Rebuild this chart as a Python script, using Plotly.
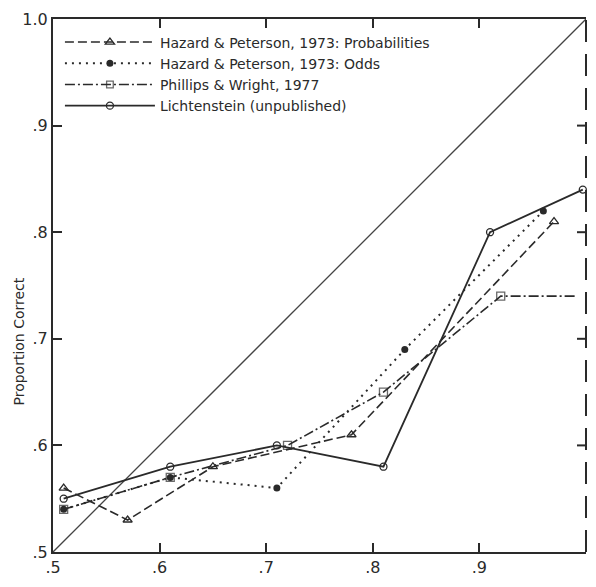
import plotly.graph_objects as go

# ---- data ----
prob_x = [0.51, 0.57, 0.65, 0.78, 0.97]
prob_y = [0.56, 0.53, 0.58, 0.61, 0.81]

odds_x = [0.51, 0.61, 0.71, 0.83, 0.96]
odds_y = [0.54, 0.57, 0.56, 0.69, 0.82]

pw_x = [0.51, 0.61, 0.72, 0.81, 0.92, 0.99]
pw_y = [0.54, 0.57, 0.60, 0.65, 0.74, 0.74]
pw_marker_sizes = [8, 8, 8, 8, 8, 0]

lich_x = [0.51, 0.61, 0.71, 0.81, 0.91, 0.997]
lich_y = [0.55, 0.58, 0.60, 0.58, 0.80, 0.84]

diag = [0.5, 1.0]

tick_vals = [0.5, 0.6, 0.7, 0.8, 0.9, 1.0]
tick_text = [".5", ".6", ".7", ".8", ".9", "1.0"]
right_ticks = [0.6, 0.7, 0.8, 0.9]

names = [
    "Hazard & Peterson, 1973: Probabilities",
    "Hazard & Peterson, 1973: Odds",
    "Phillips & Wright, 1977",
    "Lichtenstein (unpublished)",
]

INK = "#2a2a2a"
FONT = "DejaVu Sans"

fig = go.Figure()

fig.add_trace(go.Scatter(
    x=diag, y=diag, mode="lines", showlegend=False, hoverinfo="skip",
    line=dict(color="#444", width=1.3)))

fig.add_trace(go.Scatter(
    x=prob_x, y=prob_y, mode="lines+markers", name=names[0], cliponaxis=False,
    line=dict(color=INK, width=1.6, dash="9px,4px"),
    marker=dict(symbol="triangle-up-open", size=8, color=INK, line=dict(width=1.3))))

fig.add_trace(go.Scatter(
    x=odds_x, y=odds_y, mode="lines+markers", name=names[1], cliponaxis=False,
    line=dict(color=INK, width=2, dash="2px,5px"),
    marker=dict(symbol="circle", size=7, color=INK)))

fig.add_trace(go.Scatter(
    x=pw_x, y=pw_y, mode="lines+markers", name=names[2], cliponaxis=False,
    line=dict(color=INK, width=1.6, dash="10px,3px,2px,3px"),
    marker=dict(symbol="square-open", size=pw_marker_sizes, color=INK, line=dict(width=1.3))))

fig.add_trace(go.Scatter(
    x=lich_x, y=lich_y, mode="lines+markers", name=names[3], cliponaxis=False,
    line=dict(color=INK, width=1.8),
    marker=dict(symbol="circle-open", size=7, color=INK, line=dict(width=1.3))))

# dashed right border (paper-referenced so it is not clipped)
fig.add_shape(type="line", xref="paper", yref="paper", x0=1.0, x1=1.0, y0=0, y1=1,
              line=dict(color=INK, width=2, dash="22px,12px"))
# inward ticks on the right border
for v in right_ticks:
    fig.add_shape(type="line", xref="x", yref="y", xsizemode="pixel", xanchor=1.0,
                  x0=-9, x1=0, y0=v, y1=v, line=dict(color=INK, width=2))

fig.update_layout(
    width=580, height=571,
    margin=dict(l=45, r=2, t=7, b=16),
    paper_bgcolor="white", plot_bgcolor="white",
    font=dict(family=FONT, color=INK),
    xaxis=dict(
        range=[0.5, 1.0], tickvals=tick_vals, ticktext=tick_text,
        showgrid=False, zeroline=False, showline=True, linecolor=INK, linewidth=2,
        mirror="ticks", ticks="inside", ticklen=9, tickwidth=2, tickcolor=INK,
        tickfont=dict(size=16, family=FONT, color=INK)),
    yaxis=dict(
        range=[0.5, 1.0], tickvals=tick_vals, ticktext=tick_text,
        showgrid=False, zeroline=False, showline=True, linecolor=INK, linewidth=2,
        ticks="inside", ticklen=9, tickwidth=2, tickcolor=INK,
        ticklabeloverflow="allow",
        tickfont=dict(size=16, family=FONT, color=INK)),
    legend=dict(
        x=0.013, y=0.986, xanchor="left", yanchor="top",
        bgcolor="rgba(255,255,255,0)", borderwidth=0,
        font=dict(size=14, family=FONT, color=INK),
        itemwidth=90, tracegroupgap=0),
    annotations=[dict(
        text="Proportion Correct", xref="paper", yref="paper",
        x=-0.0637, y=0.395, xanchor="center", yanchor="middle",
        textangle=-90, showarrow=False,
        font=dict(size=14, family=FONT, color=INK))],
)

fig.write_html("out.html")
